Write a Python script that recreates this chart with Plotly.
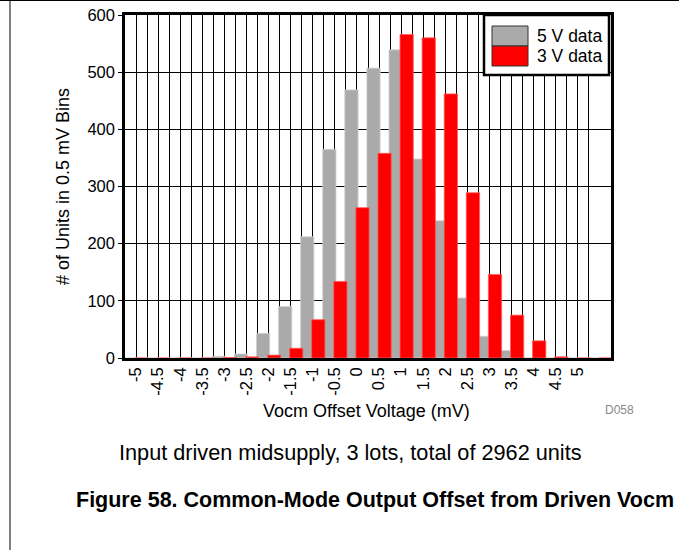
import plotly.graph_objects as go

# Histogram bins (mV) and unit counts per 0.5 mV bin
bins = [-5, -4.5, -4, -3.5, -3, -2.5, -2, -1.5, -1, -0.5, 0, 0.5, 1, 1.5, 2, 2.5, 3, 3.5, 4, 4.5, 5, 5.5]
counts_5v = [0, 0, 0, 0, 3, 7, 43, 90, 212, 365, 469, 507, 539, 348, 240, 105, 38, 13, 0, 0, 0, 0]
counts_3v = [0, 0, 0, 0, 1, 2, 5, 17, 67, 134, 263, 358, 566, 560, 462, 289, 146, 75, 30, 2, 0, 0]
tick_labels = ["-5", "-4.5", "-4", "-3.5", "-3", "-2.5", "-2", "-1.5", "-1", "-0.5", "0",
               "0.5", "1", "1.5", "2", "2.5", "3", "3.5", "4", "4.5", "5"]
series_names = ["5 V data", "3 V data"]
series_colors = ["#AAAAAA", "#FF0000"]

FONT = "Liberation Sans, Arial, sans-serif"
bar_w = 0.3

fig = go.Figure()
fig.add_trace(go.Bar(x=bins, y=counts_5v, name=series_names[0], width=bar_w, offset=-0.275,
                     marker=dict(color=series_colors[0], line=dict(color="#cfcfcf", width=0.8))))
fig.add_trace(go.Bar(x=bins, y=counts_3v, name=series_names[1], width=bar_w, offset=-0.025,
                     marker=dict(color=series_colors[1], line=dict(color="#ff5a5a", width=0.8))))

tick_vals = [float(t) for t in tick_labels]
bin_edges = [b - 0.25 for b in bins] + [bins[-1] + 0.25]

# Plot area in page pixels
PL, PR, PT, PB = 125, 611, 15, 358
PW, PH = PR - PL, PB - PT

fig.update_layout(
    width=679, height=550,
    margin=dict(l=PL, r=679 - PR, t=PT, b=550 - PB, autoexpand=False),
    paper_bgcolor="white", plot_bgcolor="white",
    barmode="overlay", showlegend=False,
    font=dict(family=FONT, color="black", size=16),
    xaxis=dict(
        range=[-5.25, 5.75], tickmode="array", tickvals=tick_vals, ticktext=tick_labels,
        tickangle=-90, tickfont=dict(size=16.5), showgrid=True, gridcolor="black", gridwidth=1,
        minor=dict(tickmode="array", tickvals=bin_edges, showgrid=True, gridcolor="black", gridwidth=1),
        showline=True, linecolor="black", linewidth=2.5, mirror=True, zeroline=False,
        ticks="", automargin=False,
    ),
    yaxis=dict(
        range=[0, 600], dtick=100, tickfont=dict(size=16.5), showgrid=True, gridcolor="black",
        gridwidth=1, showline=True, linecolor="black", linewidth=2.5, mirror=True,
        zeroline=False, ticks="outside", ticklen=4, tickcolor="black", automargin=False,
        title=dict(text="# of Units in 0.5 mV Bins", font=dict(size=18), standoff=14),
    ),
)


def px_x(p):
    return (p - PL) / PW


def px_y(p):
    return (PB - p) / PH


shapes = [
    # legend panel
    dict(type="rect", x0=px_x(484), x1=px_x(609), y0=px_y(75), y1=px_y(15),
         fillcolor="white", line=dict(color="black", width=2.5), layer="above"),
    dict(type="rect", x0=px_x(492), x1=px_x(528), y0=px_y(46), y1=px_y(26),
         fillcolor=series_colors[0], line=dict(color="#333333", width=1), layer="above"),
    dict(type="rect", x0=px_x(492), x1=px_x(528), y0=px_y(66), y1=px_y(46),
         fillcolor=series_colors[1], line=dict(color="#333333", width=1), layer="above"),
    # page frame lines
    dict(type="line", x0=px_x(10), x1=px_x(10), y0=px_y(550), y1=px_y(0),
         line=dict(color="black", width=1)),
    dict(type="line", x0=px_x(0), x1=px_x(679), y0=px_y(0.5), y1=px_y(0.5),
         line=dict(color="black", width=1)),
]
for s in shapes:
    s.update(xref="paper", yref="paper")
fig.update_layout(shapes=shapes)

annotations = [
    dict(text=series_names[0], x=px_x(535), y=px_y(36), xanchor="left", font=dict(size=17.5)),
    dict(text=series_names[1], x=px_x(535), y=px_y(56), xanchor="left", font=dict(size=17.5)),
    dict(text="D058", x=px_x(636), y=px_y(410), xanchor="right", font=dict(size=12, color="#888888")),
    dict(text="Vocm Offset Voltage (mV)", x=px_x(366), y=px_y(411), xanchor="center", font=dict(size=18)),
    dict(text="Input driven midsupply, 3 lots, total of 2962 units", x=px_x(350), y=px_y(452),
         xanchor="center", font=dict(size=21.7)),
    dict(text="<b>Figure 58. Common-Mode Output Offset from Driven Vocm</b>", x=px_x(375), y=px_y(500),
         xanchor="center", font=dict(size=21.5)),
]
for a in annotations:
    a.update(xref="paper", yref="paper", yanchor="middle", showarrow=False)
fig.update_layout(annotations=annotations)

fig.write_html("out.html")
